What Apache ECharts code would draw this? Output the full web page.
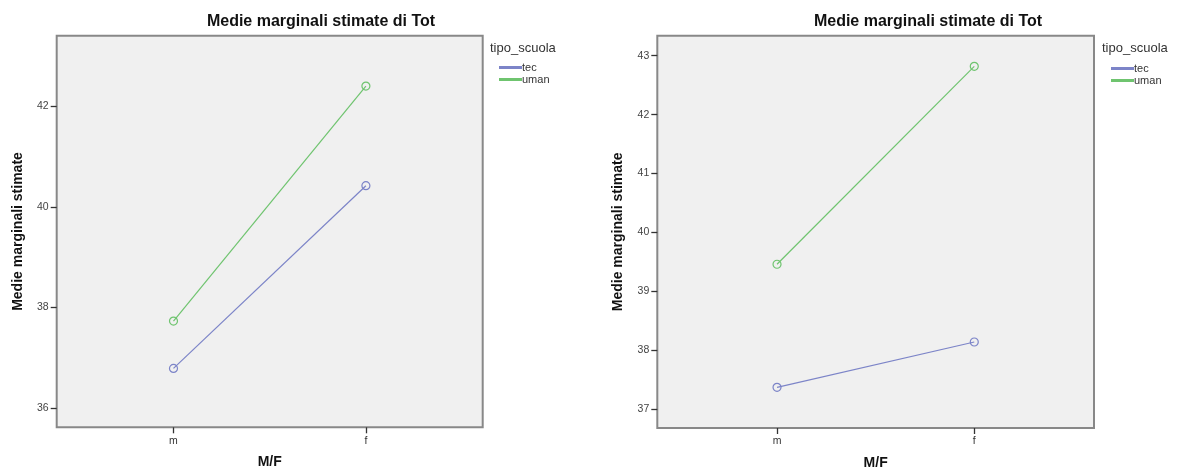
<!DOCTYPE html>
<html>
<head>
<meta charset="utf-8">
<script src="https://cdn.jsdelivr.net/npm/echarts@6/dist/echarts.min.js"></script>
<style>
html,body{margin:0;padding:0;background:#fff;}
#c{width:1178px;height:475px;}
</style>
</head>
<body>
<div id="c"></div>
<script>
// ---- data ----
const categories = ['m', 'f'];
const seriesNames = ['tec', 'uman'];
const leftTec = [36.79, 40.42];
const leftUman = [37.73, 42.40];
const rightTec = [37.37, 38.14];
const rightUman = [39.46, 42.82];
const leftYTicks = [36, 38, 40, 42];
const rightYTicks = [37, 38, 39, 40, 41, 42, 43];
const chartTitle = 'Medie marginali stimate di Tot';
const yName = 'Medie marginali stimate';
const xName = 'M/F';
const legendTitle = 'tipo_scuola';

const FONT = '"Liberation Sans", Arial, sans-serif';
const colTec = '#7c84c8';
const colUman = '#6fc46f';

const chart = echarts.init(document.getElementById('c'));

function xAxisCfg(gi) {
  return {
    type: 'value', gridIndex: gi, min: -0.607, max: 1.607,
    splitLine: { show: false },
    axisLine: { show: false, onZero: false },
    axisTick: { show: true, length: 6, customValues: [0, 1], lineStyle: { color: '#333', width: 1.3 } },
    axisLabel: { customValues: [0, 1], margin: 8, color: '#333', fontSize: 10.5, fontFamily: FONT,
      formatter: v => categories[Math.round(v)] },
    name: xName, nameLocation: 'middle', nameGap: 28,
    nameTextStyle: { fontWeight: 'bold', fontSize: 14, color: '#111', fontFamily: FONT }
  };
}
function yAxisCfg(gi, min, max, ticks) {
  return {
    type: 'value', gridIndex: gi, min: min, max: max,
    splitLine: { show: false },
    axisLine: { show: false, onZero: false },
    axisTick: { show: true, length: 6, customValues: ticks, lineStyle: { color: '#333', width: 1.3 } },
    axisLabel: { customValues: ticks, margin: 8, color: '#444', fontSize: 10.5, fontFamily: FONT },
    name: yName, nameLocation: 'middle', nameGap: 32,
    nameTextStyle: { fontWeight: 'bold', fontSize: 14, color: '#111', fontFamily: FONT }
  };
}
function lineSeries(name, vals, color, gi) {
  return {
    type: 'line', name: name, xAxisIndex: gi, yAxisIndex: gi,
    data: vals.map((v, i) => [i, v]),
    symbol: 'circle', symbolSize: 8,
    lineStyle: { color: color, width: 1.2 },
    itemStyle: { color: 'rgba(0,0,0,0)', borderColor: color, borderWidth: 1.2 },
    emphasis: { disabled: true },
    animation: false
  };
}
function legendCfg(left, top) {
  return {
    left: left, top: top, orient: 'vertical', icon: 'rect',
    itemWidth: 21, itemHeight: 1, itemGap: 1, padding: 0,
    selectedMode: false,
    textStyle: { fontSize: 11, color: '#333', fontFamily: FONT, padding: [0, 0, 0, -4] },
    data: [
      { name: seriesNames[0], itemStyle: { color: colTec } },
      { name: seriesNames[1], itemStyle: { color: colUman } }
    ]
  };
}

const option = {
  backgroundColor: '#fff',
  animation: false,
  title: [
    { text: chartTitle, left: 321, top: 14, textAlign: 'center', padding: 0,
      textStyle: { fontSize: 16, fontWeight: 'bold', color: '#111', fontFamily: FONT } },
    { text: chartTitle, left: 928, top: 14, textAlign: 'center', padding: 0,
      textStyle: { fontSize: 16, fontWeight: 'bold', color: '#111', fontFamily: FONT } },
    { text: legendTitle, left: 490, top: 42, padding: 0,
      textStyle: { fontSize: 13, fontWeight: 'normal', color: '#333', fontFamily: FONT } },
    { text: legendTitle, left: 1102, top: 42, padding: 0,
      textStyle: { fontSize: 13, fontWeight: 'normal', color: '#333', fontFamily: FONT } }
  ],
  legend: [legendCfg(499, 62), legendCfg(1111, 63)],
  grid: [
    { left: 56.7, top: 35.7, width: 426, height: 391.6, show: true,
      backgroundColor: '#f0f0f0', borderColor: '#888', borderWidth: 2 },
    { left: 657.3, top: 35.7, width: 436.7, height: 396.3, show: true,
      backgroundColor: '#f0f0f0', borderColor: '#888', borderWidth: 2 }
  ],
  xAxis: [xAxisCfg(0), xAxisCfg(1)],
  yAxis: [yAxisCfg(0, 35.62, 43.40, leftYTicks), yAxisCfg(1, 36.68, 43.34, rightYTicks)],
  series: [
    lineSeries(seriesNames[0], leftTec, colTec, 0),
    lineSeries(seriesNames[1], leftUman, colUman, 0),
    lineSeries(seriesNames[0], rightTec, colTec, 1),
    lineSeries(seriesNames[1], rightUman, colUman, 1)
  ]
};
chart.setOption(option);
</script>
</body>
</html>
